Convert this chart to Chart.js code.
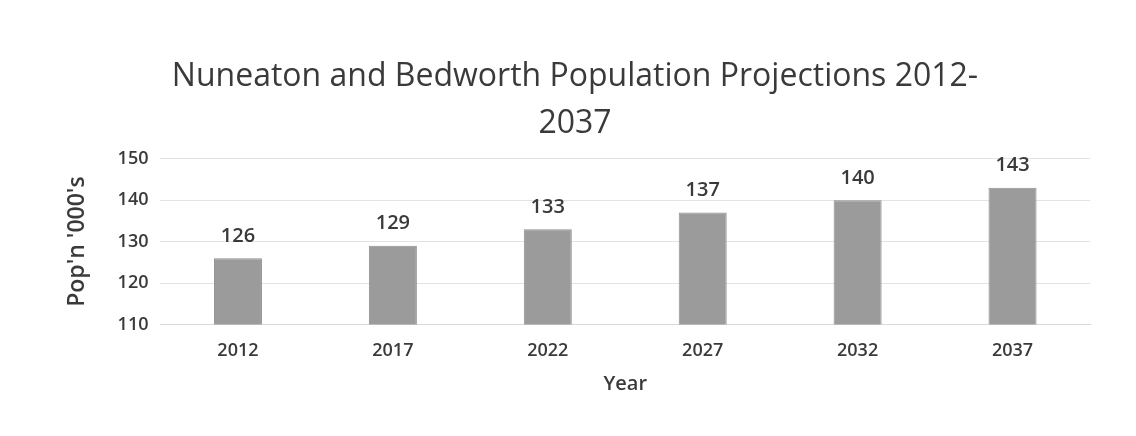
<!DOCTYPE html>
<html>
<head>
<meta charset="utf-8">
<script src="https://cdn.jsdelivr.net/npm/chart.js@4.4.0/dist/chart.umd.min.js"></script>
<style>
  html, body { margin: 0; padding: 0; background: #fff; }
  #wrap { width: 1136px; height: 436px; }
</style>
</head>
<body>
<div id="wrap"><canvas id="chart1"></canvas></div>
<script>
const years = ["2012", "2017", "2022", "2027", "2032", "2037"];
const population = [126, 129, 133, 137, 140, 143];
const yTicks = [110, 120, 130, 140, 150];

const textColor = "#3a3a3a";
const fontFamily = "'Open Sans', 'Noto Sans', sans-serif";

// draws the value above each bar
const barLabels = {
    id: 'barLabels',
    afterDatasetsDraw(chart) {
        const ctx = chart.ctx;
        const meta = chart.getDatasetMeta(0);
        ctx.save();
        ctx.fillStyle = textColor;
        ctx.font = "600 20px " + fontFamily;
        ctx.textAlign = 'center';
        ctx.textBaseline = 'bottom';
        meta.data.forEach(function(bar, i) {
            ctx.fillText(population[i], bar.x, bar.y - 12);
        });
        ctx.restore();
    }
};

let chart1 = new Chart(document.getElementById("chart1"), {
    type: "bar",
    data: {
        labels: years,
        datasets: [{
            label: "Population",
            data: population,
            backgroundColor: "#9b9b9b",
            borderColor: "#8e8e8e",
            borderWidth: 1,
            categoryPercentage: 1,
            barPercentage: 0.31
        }]
    },
    options: {
        responsive: true,
        maintainAspectRatio: false,
        animation: false,
        layout: { padding: { left: 60, right: 46, top: 54, bottom: 36 } },
        plugins: {
            legend: { display: false },
            tooltip: { enabled: false },
            title: {
                display: true,
                text: ["Nuneaton and Bedworth Population Projections 2012-", "2037"],
                color: textColor,
                font: { family: fontFamily, size: 32, weight: 'normal', lineHeight: 1.45 },
                padding: { top: 0, bottom: 12 }
            }
        },
        scales: {
            x: {
                grid: { display: false },
                border: { color: "#d9d9d9" },
                ticks: { color: textColor, font: { family: fontFamily, size: 18, weight: '600' }, padding: 8 },
                title: {
                    display: true,
                    text: "Year",
                    color: textColor,
                    font: { family: fontFamily, size: 20, weight: '600' },
                    padding: { top: 2 }
                }
            },
            y: {
                min: 110,
                max: 150,
                afterBuildTicks: function(axis) {
                    axis.ticks = yTicks.map(function(v) { return { value: v }; });
                },
                grid: { color: "#e3e3e3", drawTicks: false },
                border: { display: false },
                ticks: { color: textColor, font: { family: fontFamily, size: 18, weight: '600' }, padding: 12 },
                title: {
                    display: true,
                    text: "Pop'n '000's",
                    color: textColor,
                    font: { family: fontFamily, size: 23, weight: '600' },
                    padding: { bottom: 14 }
                }
            }
        }
    },
    plugins: [barLabels]
});
</script>
</body>
</html>
